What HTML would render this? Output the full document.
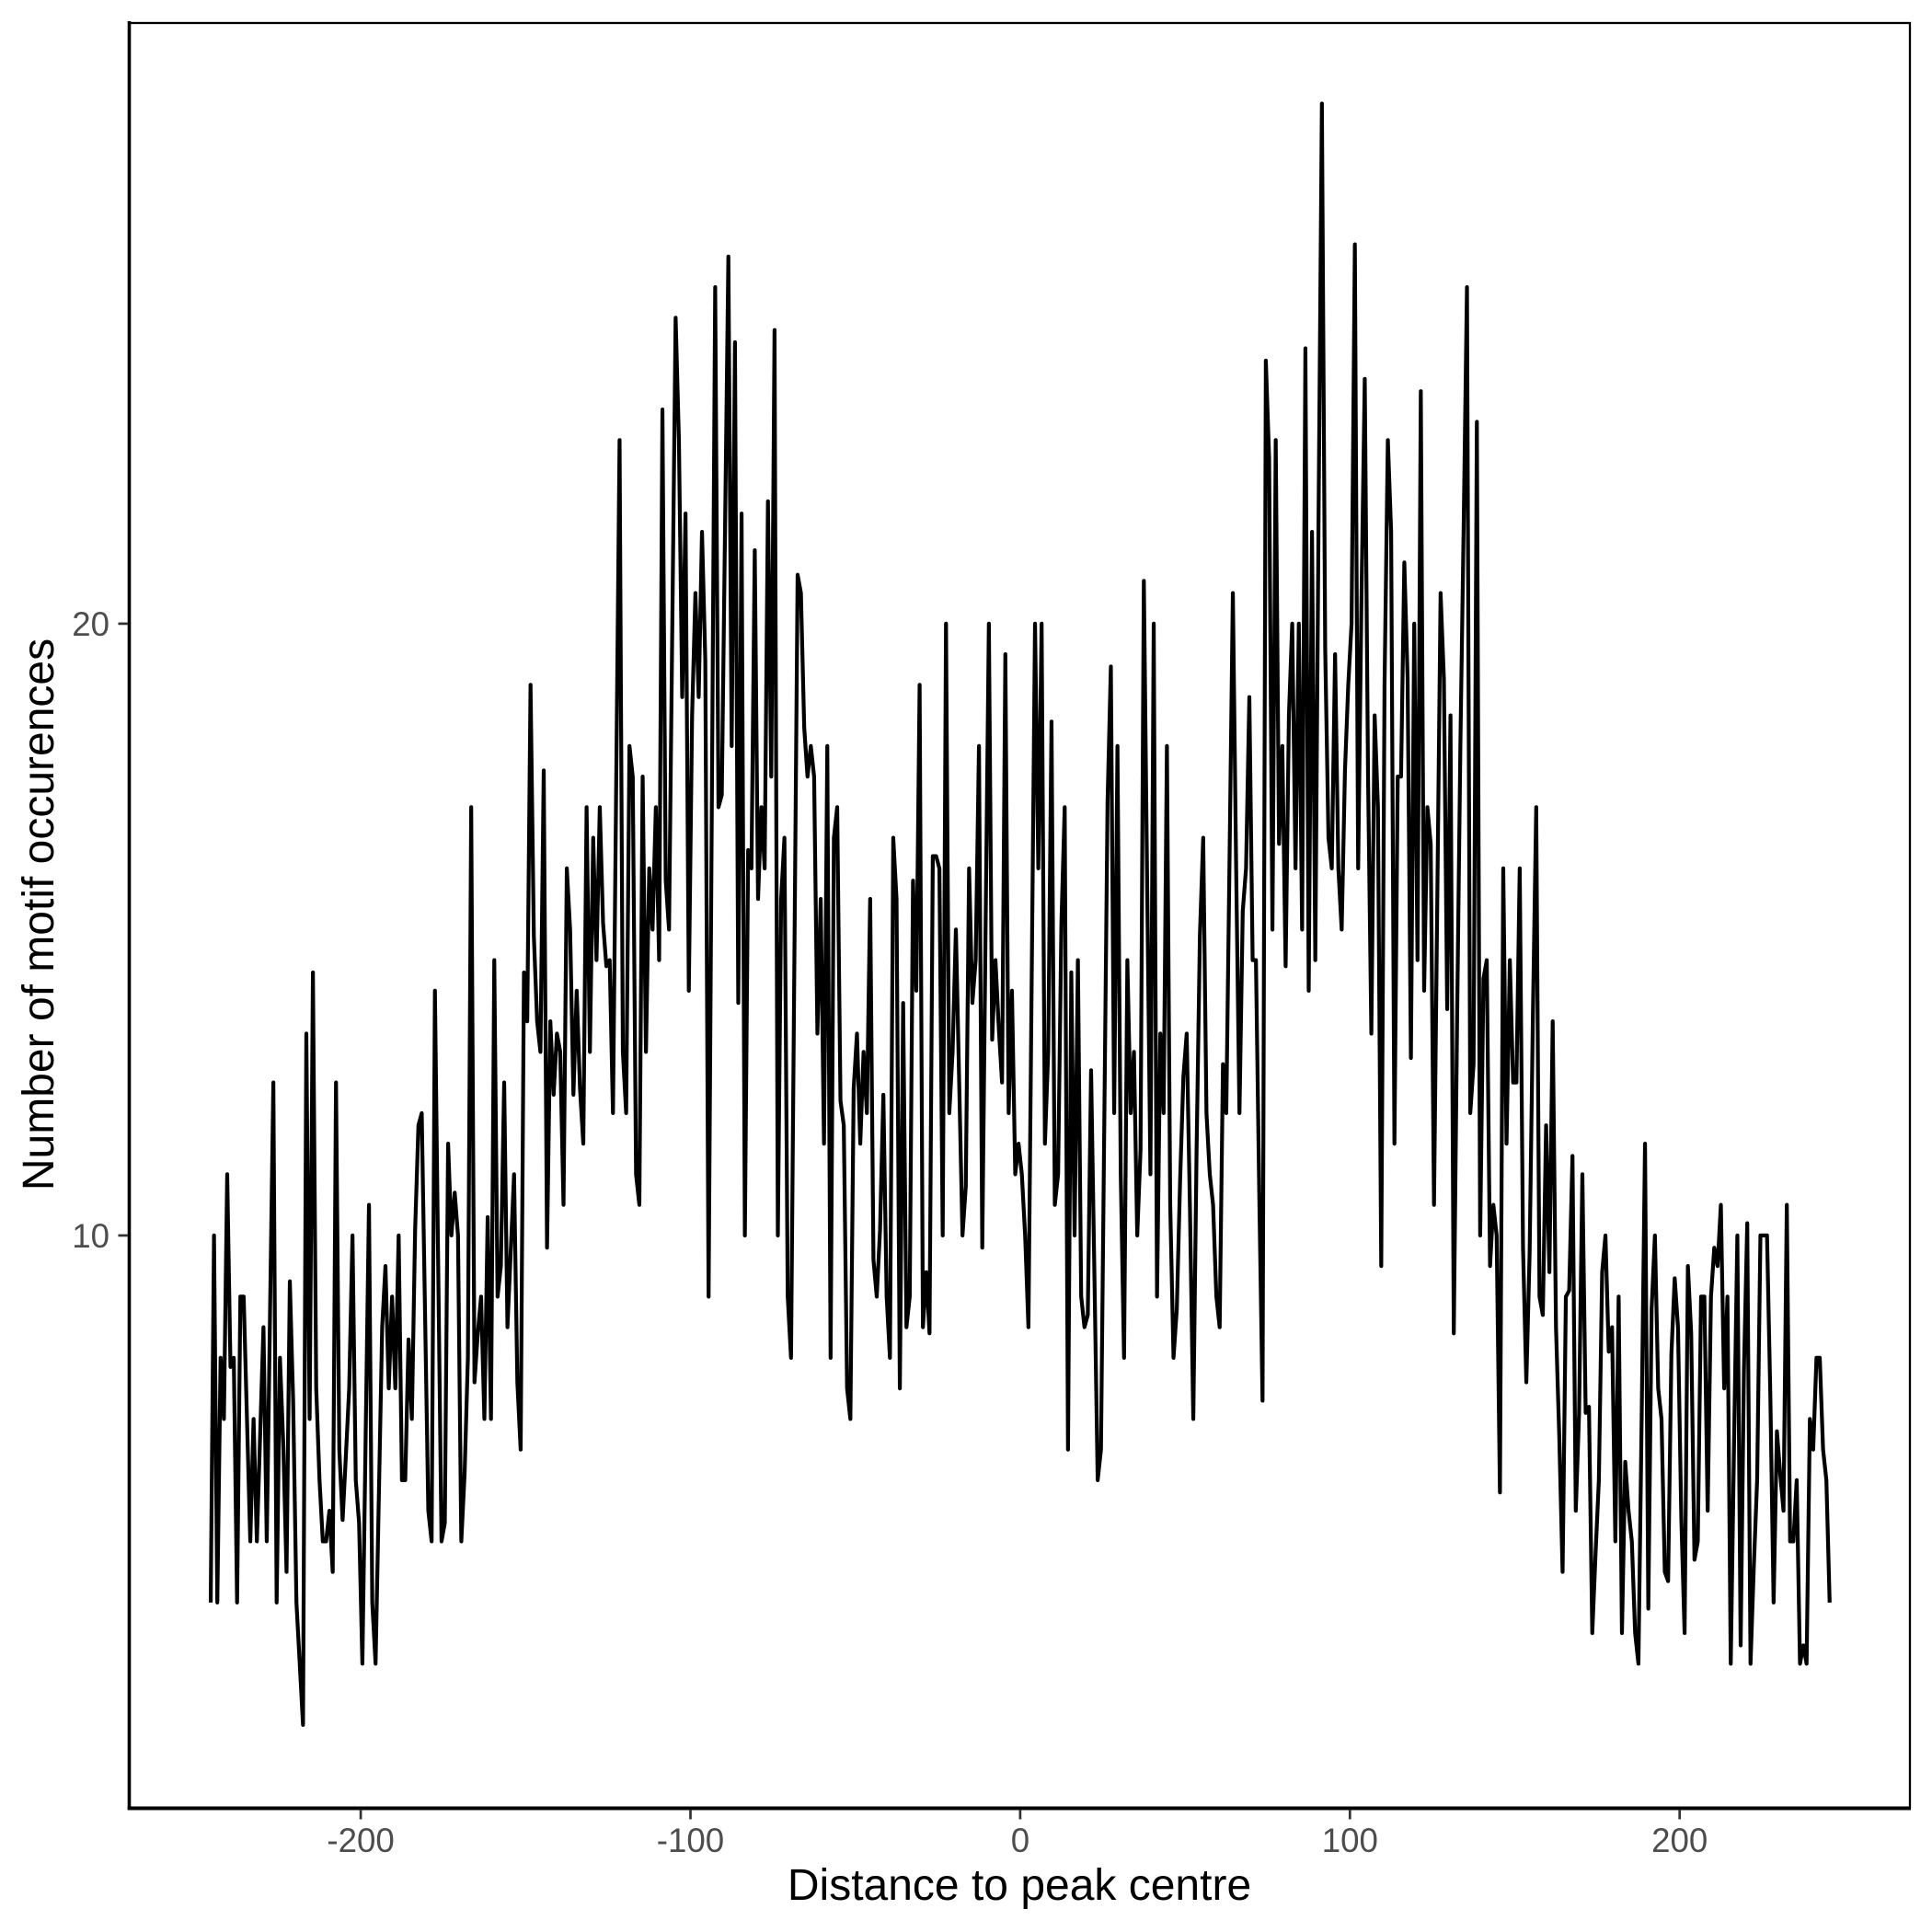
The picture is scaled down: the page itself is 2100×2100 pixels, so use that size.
<!DOCTYPE html>
<html>
<head>
<meta charset="utf-8">
<style>
html,body{margin:0;padding:0;background:#fff;}
svg{display:block;}
text{font-family:"Liberation Sans",sans-serif;}
</style>
</head>
<body>
<svg width="2100" height="2100" viewBox="0 0 2100 2100" xmlns="http://www.w3.org/2000/svg">
<rect x="0" y="0" width="2100" height="2100" fill="#fff"/>
<g transform="translate(1108.9,1963) scale(3.584,-66.5) translate(-0.5,-0.675)">
<polyline fill="none" stroke="#000" stroke-width="4.2" stroke-linejoin="round" stroke-linecap="butt" vector-effect="non-scaling-stroke" points="
-245,4 -244,10 -243,4 -242,8 -241,7 -240,11 -239,7.85 -238,8 -237,4 -236,9 -235,9 -234,7 -233,5 -232,7 -231,5 -230,6.75 -229,8.5 -228,5 -227,8.75 -226,12.5
-225,4 -224,8 -223,6.6 -222,4.5 -221,9.25 -220,7.3 -219,4 -218,3 -217,2 -216,13.3 -215,7 -214,14.3 -213,7.5 -212,6 -211,5 -210,5 -209,5.5 -208,4.5 -207,12.5 -206,6.5
-205,5.35 -204,6.4 -203,7.5 -202,10 -201,6 -200,5.3 -199,3 -198,6.75 -197,10.5 -196,4 -195,3 -194,5.75 -193,8.5 -192,9.5 -191,7.5 -190,9 -189,7.5 -188,10 -187,6 -186,6
-185,8.3 -184,7 -183,10.1 -182,11.8 -181,12 -180,8.75 -179,5.5 -178,5 -177,14 -176,9.5 -175,5 -174,5.3 -173,11.5 -172,10 -171,10.7 -170,10 -169,5 -168,6.1 -167,8 -166,17
-165,7.6 -164,8.4 -163,9 -162,7 -161,10.3 -160,7 -159,14.5 -158,9 -157,9.5 -156,12.5 -155,8.5 -154,9.75 -153,11 -152,7.6 -151,6.5 -150,14.3 -149,13.5 -148,19 -147,14.9 -146,13.5
-145,13 -144,17.6 -143,9.8 -142,13.5 -141,12.3 -140,13.3 -139,13 -138,10.5 -137,16 -136,15 -135,12.3 -134,14 -133,12.4 -132,11.5 -131,17 -130,13 -129,16.5 -128,14.5 -127,17 -126,15.1
-125,14.4 -124,14.5 -123,12 -122,17.5 -121,23 -120,13 -119,12 -118,18 -117,17.5 -116,11 -115,10.5 -114,17.5 -113,13 -112,16 -111,15 -110,17 -109,14.5 -108,23.5 -107,15.8 -106,15
-105,20 -104,25 -103,23 -102,18.8 -101,21.8 -100,14 -99,18.5 -98,20.5 -97,18.8 -96,21.5 -95,19.4 -94,9 -93,17.2 -92,25.5 -91,17 -90,17.2 -89,21.6 -88,26 -87,18 -86,24.6
-85,13.8 -84,21.8 -83,10 -82,16.3 -81,16 -80,21.2 -79,15.5 -78,17 -77,16 -76,22 -75,17.5 -74,24.8 -73,10 -72,15.5 -71,16.5 -70,9 -69,8 -68,14.4 -67,20.8 -66,20.5
-65,18.3 -64,17.5 -63,18 -62,17.5 -61,13.3 -60,15.5 -59,11.5 -58,18 -57,8 -56,16.5 -55,17 -54,12.2 -53,11.8 -52,7.5 -51,7 -50,12.4 -49,13.3 -48,11.5 -47,13 -46,12
-45,15.5 -44,9.6 -43,9 -42,10.1 -41,12.3 -40,9 -39,8 -38,16.5 -37,15.5 -36,7.5 -35,13.8 -34,8.5 -33,9 -32,15.8 -31,14 -30,19 -29,8.5 -28,9.4 -27,8.4 -26,16.2
-25,16.2 -24,16 -23,10 -22,20 -21,12 -20,13 -19,15 -18,12.5 -17,10 -16,10.8 -15,16 -14,13.8 -13,14.5 -12,18 -11,9.8 -10,15 -9,20 -8,13.2 -7,14.5 -6,13.4
-5,12.5 -4,19.5 -3,12 -2,14 -1,11 0,11.5 1,11 2,10 3,8.5 4,14.25 5,20 6,16 7,20 8,11.5 9,13 10,18.4 11,10.5 12,11 13,15.1 14,17
15,6.5 16,14.3 17,10 18,14.5 19,9 20,8.5 21,8.7 22,12.7 23,9.4 24,6 25,6.5 26,11.8 27,17.1 28,19.3 29,12 30,18 31,11 32,8 33,14.5 34,12
35,13 36,10 37,11.4 38,20.7 39,15.8 40,11 41,20 42,9 43,13.3 44,12 45,18 46,10.5 47,8 48,8.8 49,10.9 50,12.6 51,13.3 52,10.4 53,7 54,11.4
55,14.9 56,16.5 57,12 58,11 59,10.5 60,9 61,8.5 62,12.8 63,12 64,16.2 65,20.5 66,16 67,12 68,15.3 69,16 70,18.8 71,14.5 72,14.5 73,10.7 74,7.3
75,24.3 76,22.7 77,15 78,23 79,16.4 80,18 81,14.4 82,18.5 83,20 84,16 85,20 86,15 87,24.5 88,14 89,21.5 90,14.5 91,21.8 92,28.5 93,19.6 94,16.5
95,16 96,19.5 97,16 98,15 99,17.6 100,19 101,20 102,26.2 103,16 104,20.4 105,24 106,17.5 107,13.3 108,18.5 109,17 110,9.5 111,19 112,23 113,21.5 114,11.5
115,17.5 116,17.5 117,21 118,19.1 119,12.9 120,20 121,14.5 122,23.8 123,14 124,17 125,16.4 126,10.5 127,15.5 128,20.5 129,19.1 130,13.7 131,18.5 132,8.4 133,13.5 134,18
135,21.6 136,25.5 137,12 138,12.8 139,23.3 140,10 141,14.2 142,14.5 143,9.5 144,10.5 145,10 146,5.8 147,16 148,11.5 149,14.5 150,12.5 151,12.5 152,16 153,9.8 154,7.6
155,9.7 156,13.6 157,17 158,9 159,8.7 160,11.8 161,9.4 162,13.5 163,8.5 164,6.7 165,4.5 166,9 167,9.1 168,11.3 169,5.5 170,7.1 171,11 172,7.1 173,7.2 174,3.5
175,4.8 176,6 177,9.4 178,10 179,8.1 180,8.5 181,5 182,9 183,3.5 184,6.3 185,5.5 186,5 187,3.5 188,3 189,7.1 190,11.5 191,3.9 192,8.8 193,10 194,7.5
195,7 196,4.5 197,4.35 198,8.06 199,9.3 200,8.5 201,5.4 202,3.5 203,9.5 204,8.4 205,4.7 206,5 207,9 208,9 209,5.5 210,9 211,9.8 212,9.5 213,10.5 214,7.5
215,9 216,3 217,6.6 218,10 219,3.3 220,7.8 221,10.2 222,3 223,4.6 224,6 225,10 226,10 227,10 228,7.4 229,4 230,6.8 231,6.1 232,5.5 233,10.5 234,5
235,5 236,6 237,3 238,3.3 239,3 240,7 241,6.5 242,8 243,8 244,6.5 245,6 246,4"/>
</g>
<!-- panel border (thin) -->
<rect x="140.5" y="25" width="1935.5" height="1940" fill="none" stroke="#000" stroke-width="2.3"/>
<!-- axis lines (thick) -->
<line x1="140.5" y1="23" x2="140.5" y2="1967" stroke="#000" stroke-width="3.6"/>
<line x1="138.7" y1="1965.5" x2="2077" y2="1965.5" stroke="#000" stroke-width="4"/>
<!-- x ticks -->
<g stroke="#333" stroke-width="2.7">
<line x1="392.1" y1="1967" x2="392.1" y2="1977.5"/>
<line x1="750.5" y1="1967" x2="750.5" y2="1977.5"/>
<line x1="1108.9" y1="1967" x2="1108.9" y2="1977.5"/>
<line x1="1467.3" y1="1967" x2="1467.3" y2="1977.5"/>
<line x1="1825.7" y1="1967" x2="1825.7" y2="1977.5"/>
<line x1="128.5" y1="677.9" x2="139" y2="677.9"/>
<line x1="128.5" y1="1342.9" x2="139" y2="1342.9"/>
</g>
<!-- x tick labels -->
<g fill="#4D4D4D" font-size="36.7" text-anchor="middle">
<text x="392.1" y="2013">-200</text>
<text x="750.5" y="2013">-100</text>
<text x="1108.9" y="2013">0</text>
<text x="1467.3" y="2013">100</text>
<text x="1825.7" y="2013">200</text>
</g>
<!-- y tick labels -->
<g fill="#4D4D4D" font-size="36.7" text-anchor="end">
<text x="119" y="691">20</text>
<text x="119" y="1356">10</text>
</g>
<!-- axis titles -->
<text x="1108" y="2065" font-size="48" text-anchor="middle" fill="#000">Distance to peak centre</text>
<text transform="translate(58,994) rotate(-90)" x="0" y="0" font-size="48" text-anchor="middle" fill="#000">Number of motif occurences</text>
</svg>
</body>
</html>
